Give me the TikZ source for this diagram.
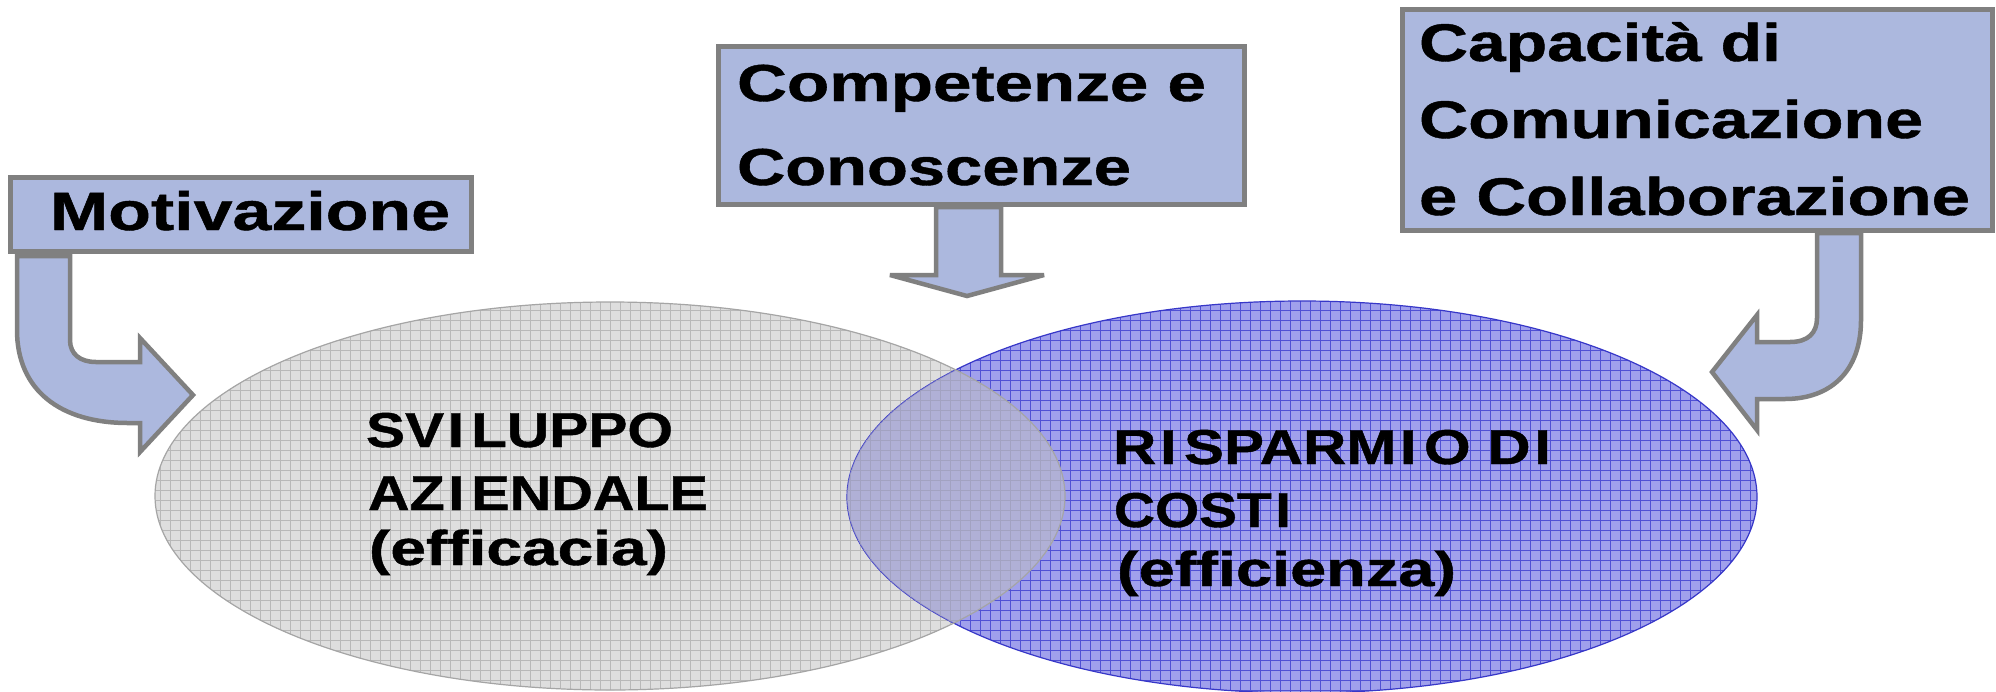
\documentclass[tikz,border=0pt]{standalone}
\usepackage{fontspec}
\setmainfont{Liberation Sans}[Ligatures=NoCommon, BoldFeatures={FakeBold=0.8}]
\usepackage{graphicx}
\newcommand\fitw[2]{\resizebox{#1pt}{\height}{#2}}
\definecolor{boxfill}{RGB}{172,184,222}
\definecolor{boxline}{RGB}{128,128,128}
\definecolor{grayfill}{RGB}{222,222,222}
\definecolor{grayline}{RGB}{184,184,184}
\definecolor{grayedge}{RGB}{165,165,165}
\definecolor{graytint}{RGB}{190,190,196}
\definecolor{bluefill}{RGB}{160,160,236}
\definecolor{blueline}{RGB}{80,80,212}
\definecolor{blueedge}{RGB}{55,55,200}
\begin{document}
\begin{tikzpicture}[x=1pt,y=-1pt,
  boxstyle/.style={draw=boxline, fill=boxfill, line width=5pt, inner sep=0pt, outer sep=0pt, anchor=north west},
  blockarrow/.style={draw=boxline, fill=boxfill, line width=4.5pt, line join=miter, miter limit=4},
  lbl/.style={anchor=base west, inner sep=0pt, outer sep=0pt, font=\bfseries\fontsize{#1pt}{#1pt}\selectfont},
]
\useasboundingbox (0,0) rectangle (1996,691);
\fill[white] (0,0) rectangle (1996,691);

% ellipse centres
\coordinate (gc) at (610,496);
\coordinate (bc) at (1302,497);

% gray ellipse (opaque)
\begin{scope}
  \clip (gc) ellipse [x radius=455, y radius=194];
  \fill[grayfill] (150,300) rectangle (1070,695);
  \draw[grayline, line width=1pt, step=10pt] (150,300) grid (1070,695);
\end{scope}

% blue ellipse
\begin{scope}
  \clip (bc) ellipse [x radius=455, y radius=196];
  \fill[bluefill] (840,295) rectangle (1760,700);
  \draw[blueline, line width=1pt, step=10pt] (840,295) grid (1760,700);
\end{scope}
\draw[blueedge, line width=1.2pt] (bc) ellipse [x radius=455, y radius=196];

% gray ellipse seen through the overlap
\begin{scope}
  \clip (bc) ellipse [x radius=455, y radius=196];
  \clip (gc) ellipse [x radius=455, y radius=194];
  \fill[graytint, opacity=0.55] (840,295) rectangle (1070,695);
  \draw[grayline, opacity=0.5, line width=1pt, step=10pt] (840,295) grid (1070,695);
\end{scope}
\draw[grayedge, line width=1.2pt] (gc) ellipse [x radius=455, y radius=194];

% block arrows
\draw[blockarrow] (17,256) -- (70,256) -- (70,340)
  .. controls (70,354) and (80,362) .. (96,362) -- (140,362) -- (140,338)
  -- (193,395) -- (140,452) -- (140,423) -- (128,423)
  .. controls (60,423) and (17,390) .. (17,330) -- cycle;
\draw[blockarrow] (936,207) -- (1001,207) -- (1001,275) -- (1044,275)
  -- (967,296) -- (890,275) -- (936,275) -- cycle;
\draw[blockarrow] (1817,233) -- (1861,233) -- (1861,320)
  .. controls (1861,372) and (1830,399) .. (1785,399) -- (1757,399)
  -- (1757,430) -- (1712,372) -- (1757,315) -- (1757,342) -- (1790,342)
  .. controls (1808,342) and (1817,333) .. (1817,318) -- cycle;

% boxes
\node[boxstyle, minimum width=461pt, minimum height=74pt] (mot) at (10,177) {};
\node[boxstyle, minimum width=526pt, minimum height=158pt] (comp) at (718,46) {};
\node[boxstyle, minimum width=590pt, minimum height=221pt] (cap) at (1402,9.5) {};

% box texts
\node[lbl=54] (tmot) at (50,230) {\fitw{400}{Motivazione}};
\node[lbl=52] (tcomp1) at (737,101) {\fitw{469}{Competenze e}};
\node[lbl=52] (tcomp2) at (737,185) {\fitw{394}{Conoscenze}};
\node[lbl=53] (tcap1) at (1419,61) {\fitw{362}{Capacità di}};
\node[lbl=53] (tcap2) at (1419,138) {\fitw{504}{Comunicazione}};
\node[lbl=53] (tcap3) at (1419,215) {\fitw{551}{e Collaborazione}};

% ellipse texts
\node[lbl=49] (ts1) at (366,447) {\fitw{307}{SV\kern3pt I\kern6pt LUPPO}};
\node[lbl=49] (ts2) at (368,510) {\fitw{340}{AZ\kern3pt I\kern6pt ENDALE}};
\node[lbl=49] (ts3) at (369,565) {\fitw{299}{(efficacia)}};
\node[lbl=49] (tr1) at (1113,464) {\fitw{438}{R\kern3pt I\kern6pt SPARM\kern3pt I\kern6pt O D\kern3pt I}};
\node[lbl=49] (tr2) at (1114,527) {\fitw{177}{COST\kern3pt I}};
\node[lbl=49] (tr3) at (1117,586) {\fitw{339}{(efficienza)}};
\end{tikzpicture}
\end{document}
